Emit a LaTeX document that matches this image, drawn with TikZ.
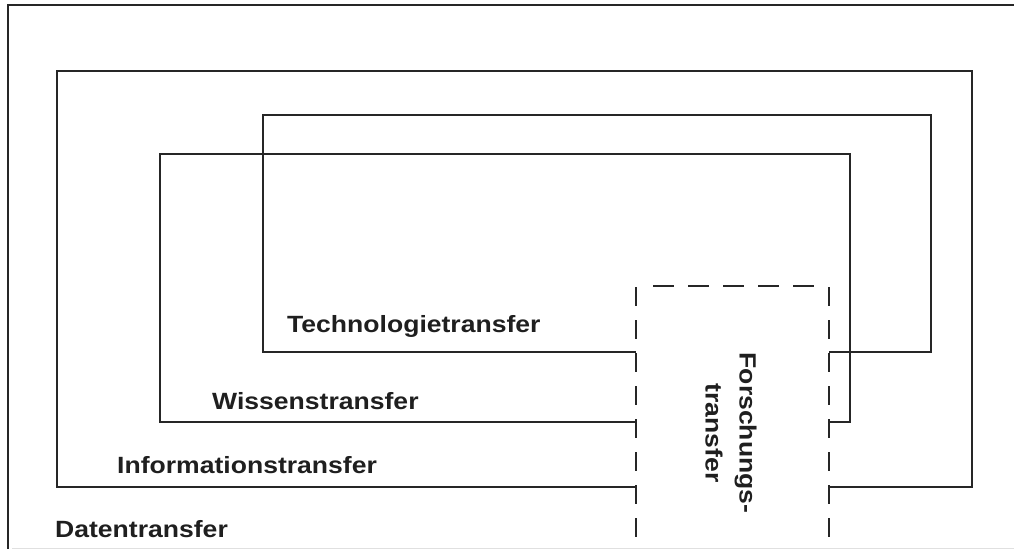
\documentclass[tikz,border=0pt]{standalone}
\usepackage{fontspec}
\newfontfamily\labfont{Liberation Sans}[FakeStretch=1.13]
\begin{document}
\begin{tikzpicture}[x=1pt,y=-1pt,
  frame/.style={line width=2.3pt, draw=black!85, line join=miter},
  vdash/.style={line width=2.3pt, draw=black!85, dash pattern=on 18.5pt off 14.5pt},
  hdash/.style={line width=2.3pt, draw=black!85, dash pattern=on 21pt off 14pt},
  lab/.style={font=\labfont\bfseries\fontsize{23.5}{34}\selectfont, text=black!88, inner sep=0pt}]
\useasboundingbox (0,0) rectangle (1014,549);
% outer frame
\coordinate (fTL) at (8,5);
\coordinate (fTR) at (1014,5);
\coordinate (fBL) at (8,549);
\draw[frame] (fTR) -- (fTL) -- (fBL);
\draw[line width=1pt, draw=black!12] (12,548) -- (1014,548);
% dashed box (Forschungstransfer)
\coordinate (dL) at (636,286);
\coordinate (dR) at (829,286);
\coordinate (dLb) at (636,551);
\coordinate (dRb) at (829,551);
\draw[vdash] ([yshift=-1.15pt]dL) -- (dLb);
\draw[vdash] ([yshift=-1.15pt]dR) -- (dRb);
\draw[hdash] ([xshift=17pt]dL) -- ([xshift=-13pt]dR);
% Informationstransfer box
\coordinate (aR) at (829,487);
\coordinate (aL) at (636,487);
\draw[frame] (aR) -- (972,487) -- (972,71) -- (57,71) -- (57,487) -- (aL);
% Wissenstransfer box
\coordinate (bR) at (829,422);
\coordinate (bL) at (636,422);
\draw[frame] (bR) -- (850,422) -- (850,154) -- (160,154) -- (160,422) -- (bL);
% Technologietransfer box
\coordinate (cR) at (829,352);
\coordinate (cL) at (636,352);
\draw[frame] (cR) -- (931,352) -- (931,115) -- (263,115) -- (263,352) -- (cL);
% labels
\node[lab, anchor=base west] (tt) at (287,332) {Technologietransfer};
\node[lab, anchor=base west] (wt) at (212,409) {Wissenstransfer};
\node[lab, anchor=base west] (it) at (117,473) {Informationstransfer};
\node[lab, anchor=base west] (dt) at (55,537) {Datentransfer};
\node[lab, rotate=-90, align=center] (ft) at (731,433) {Forschungs-\\transfer};
\end{tikzpicture}
\end{document}
